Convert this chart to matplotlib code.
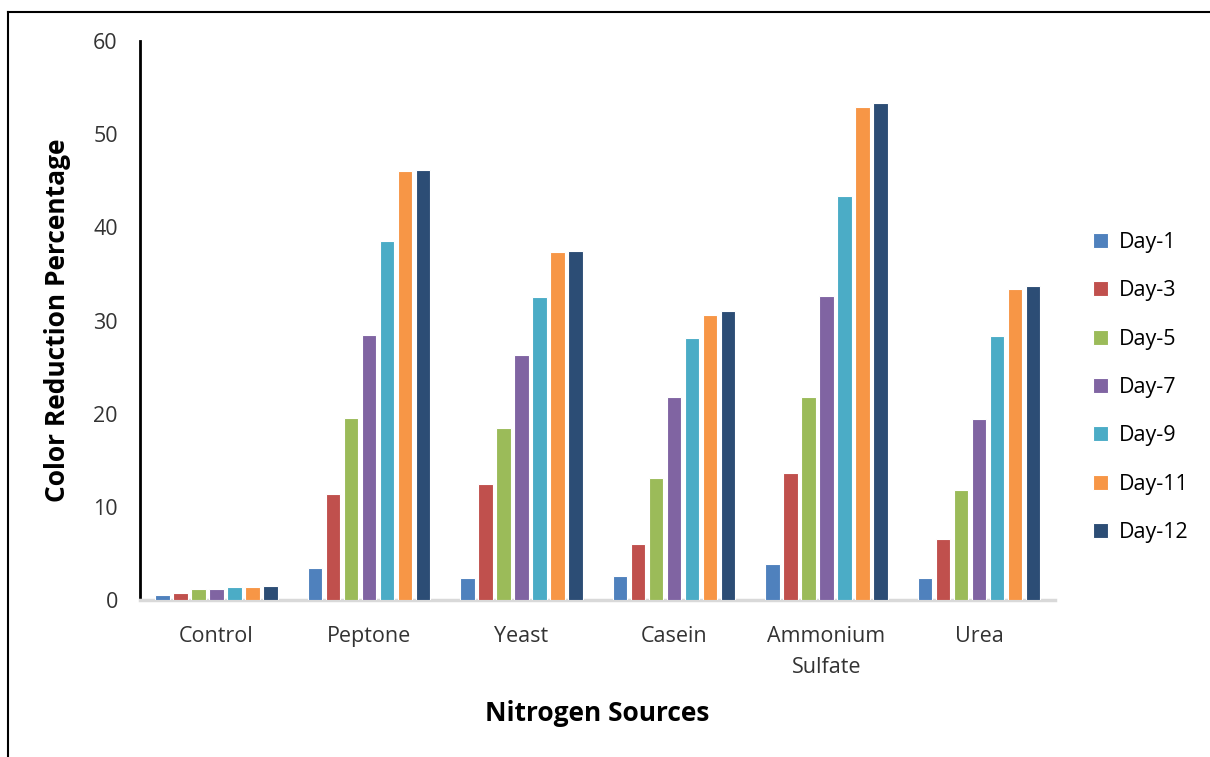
import numpy as np
import matplotlib
matplotlib.use("Agg")
import matplotlib.pyplot as plt
from matplotlib.lines import Line2D

# Nitrogen source categories and colour reduction per day
sources = ["Control", "Peptone", "Yeast", "Casein", "Ammonium\nSulfate", "Urea"]
days = ["Day-1", "Day-3", "Day-5", "Day-7", "Day-9", "Day-11", "Day-12"]

day1 = [0.5, 3.4, 2.4, 2.6, 3.9, 2.4]
day3 = [0.8, 11.4, 12.4, 6.0, 13.6, 6.6]
day5 = [1.2, 19.5, 18.5, 13.1, 21.8, 11.8]
day7 = [1.2, 28.4, 26.3, 21.8, 32.6, 19.4]
day9 = [1.4, 38.5, 32.5, 28.1, 43.4, 28.3]
day11 = [1.4, 46.0, 37.4, 30.6, 52.9, 33.4]
day12 = [1.5, 46.2, 37.5, 31.0, 53.3, 33.7]

colors = ["#4F81BD", "#C0504D", "#9BBB59", "#8064A2", "#4BACC6", "#F79646", "#2C4D75"]

plt.rcParams['font.family'] = ['Open Sans', 'DejaVu Sans']

def main():
	series = [day1, day3, day5, day7, day9, day11, day12]
	x = np.arange(len(sources))
	slot = 0.118
	width = 0.095

	fig = plt.figure(figsize=(12.1, 7.57), dpi=100)
	ax = fig.add_axes([0.1157, 0.2074, 0.7565, 0.7384])

	# Draw each day as a group of bars
	for i, vals in enumerate(series):
		offs = (i - 3) * slot
		ax.bar(x + offs, vals, width, color=colors[i], edgecolor="white",
			linewidth=0.8, label=days[i], zorder=3)

	ax.set_xlim(-0.5, 5.5)
	ax.set_ylim(0, 60)
	ax.set_yticks(range(0, 61, 10))
	ax.set_xticks(x)
	ax.set_xticklabels(sources, linespacing=1.6)
	ax.tick_params(axis="both", length=0, labelsize=15.5, colors="#333333")
	ax.tick_params(axis="y", pad=16)
	ax.tick_params(axis="x", pad=19)

	for s in ["top", "right"]:
		ax.spines[s].set_visible(False)
	ax.spines["left"].set_linewidth(2)
	ax.spines["left"].set_color("black")
	ax.spines["bottom"].set_linewidth(2.5)
	ax.spines["bottom"].set_color("#D9D9D9")

	ax.set_xlabel("Nitrogen Sources", fontsize=19, fontweight="bold", labelpad=16)
	ax.set_ylabel("Color Reduction Percentage", fontsize=19, fontweight="bold", labelpad=16)

	ax.legend(loc="center left", bbox_to_anchor=(1.02, 0.38), frameon=False,
		fontsize=15.5, handlelength=0.7, handleheight=0.7, labelspacing=1.27,
		handletextpad=0.5)

	# Frame lines round the picture (top and left only visible)
	fig.add_artist(Line2D([8 / 1210, 1], [1 - 12 / 757, 1 - 12 / 757],
		transform=fig.transFigure, color="black", linewidth=1.5))
	fig.add_artist(Line2D([8 / 1210, 8 / 1210], [0, 1 - 12 / 757],
		transform=fig.transFigure, color="black", linewidth=1.5))

	fig.savefig("out.png", dpi=100)

if __name__ == "__main__":
	main()
